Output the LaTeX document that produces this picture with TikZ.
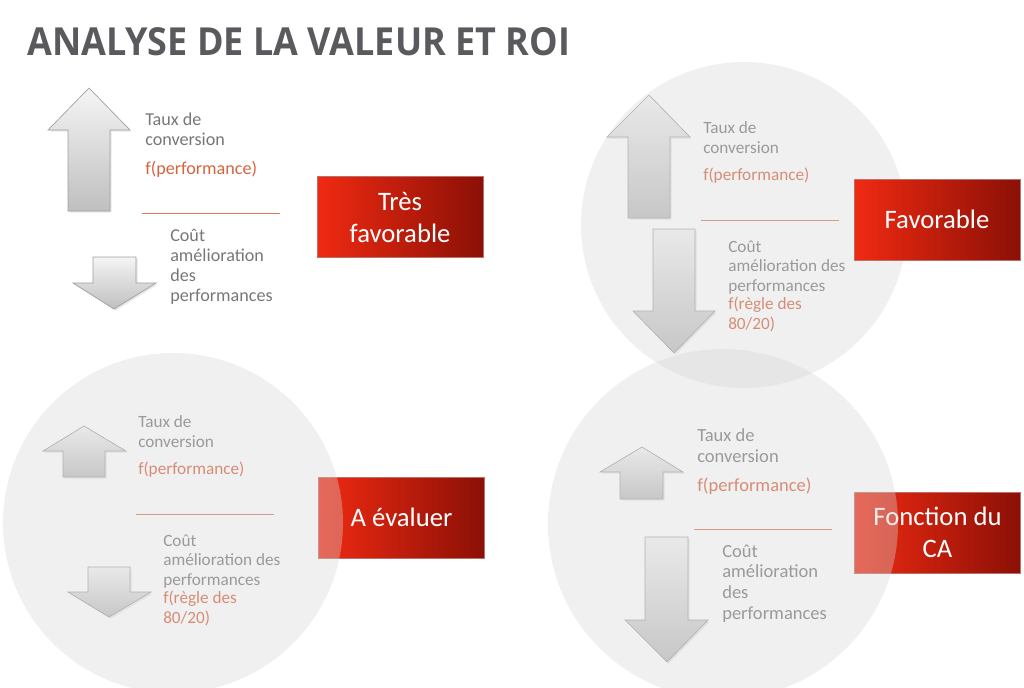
\documentclass[tikz,border=0pt]{standalone}
\usepackage{fontspec}
\setmainfont{Carlito}
\newfontfamily\titlefont{Open Sans}
\usetikzlibrary{shadows}
\definecolor{titlegray}{HTML}{5A5A5E}
\definecolor{txtgray}{HTML}{777777}
\definecolor{txtorange}{HTML}{D5633E}
\definecolor{boxred}{HTML}{F02A12}
\definecolor{boxdark}{HTML}{8B1006}
\definecolor{discgray}{HTML}{D6D6D6}

\begin{document}
\begin{tikzpicture}[x=0.75pt,y=-0.75pt,
    blockarrow/.style={draw=black!38,line width=0.5pt,top color=black!4,bottom color=black!25,
        drop shadow={opacity=0.18,shadow xshift=1.2pt,shadow yshift=-1.2pt}},
    txt/.style={anchor=base west,align=left,inner sep=0pt,text=txtgray,font=\fontsize{13.6}{15}\selectfont},
    txtsmall/.style={txt,font=\fontsize{12.9}{14.5}\selectfont},
    txtbig/.style={txt,font=\fontsize{13.9}{15.4}\selectfont},
    perf/.style={text=txtorange},
    sepline/.style={draw=txtorange!85,line width=0.7pt},
    redbox/.style={draw=boxdark!60,line width=0.3pt,left color=boxred,right color=boxdark,
        minimum width=124.5pt,minimum height=60.5pt,inner sep=0pt,align=center,text=white,
        font=\fontsize{20}{24}\selectfont},
    disc/.style={fill=discgray,fill opacity=0.37}]
    \useasboundingbox (0,0) rectangle (1024,687);

    % titre
    \node[anchor=base west,inner sep=0pt,text=titlegray] (title) at (27,55)
        {\resizebox{407pt}{21pt}{\titlefont\bfseries ANALYSE DE LA VALEUR ET ROI}};

    % en haut a gauche
    \draw[blockarrow] (89,88) -- (130,130) -- (110,130) -- (110,211) -- (68,211) -- (68,130) -- (48,130) -- cycle;
    \draw[blockarrow] (93,257) -- (136,257) -- (136,283) -- (156,283) -- (114,309) -- (73,283) -- (93,283) -- cycle;
    \node[txt] (tl-taux) at (145,145) {Taux de\\conversion};
    \node[txt,perf] (tl-perf) at (145,174) {f(performance)};
    \draw[sepline] (142,213) -- (280,213);
    \node[txt] (tl-cout) at (170,301) {Coût\\amélioration\\des\\performances};
    \node[redbox] (tl-box) at (400,217) {Très\\favorable};

    % en haut a droite
    \draw[blockarrow] (649,95) -- (690,137) -- (670,137) -- (670,218) -- (628,218) -- (628,137) -- (607,137) -- cycle;
    \draw[blockarrow] (653,229) -- (695,229) -- (695,311) -- (715,311) -- (674,353) -- (633,311) -- (653,311) -- cycle;
    \node[txtsmall] (tr-taux) at (703,153) {Taux de\\conversion};
    \node[txtsmall,perf] (tr-perf) at (703,180) {f(performance)};
    \draw[sepline] (701,220) -- (839,220);
    \node[txtsmall] (tr-cout) at (728,291) {Coût\\amélioration des\\performances};
    \node[txtsmall,perf] (tr-regle) at (728,329) {f(règle des\\80/20)};
    \fill[disc] (744,225) circle (163);
    \node[redbox] (tr-box) at (937,219.5) {Favorable};

    % en bas a gauche
    \draw[blockarrow] (84,426) -- (126,451) -- (105,451) -- (105,477) -- (63,477) -- (63,451) -- (43,451) -- cycle;
    \draw[blockarrow] (88,567) -- (130,567) -- (130,592) -- (151,592) -- (109,617) -- (68,592) -- (88,592) -- cycle;
    \node[txtsmall] (bl-taux) at (138,447) {Taux de\\conversion};
    \node[txtsmall,perf] (bl-perf) at (138,474) {f(performance)};
    \draw[sepline] (136,514) -- (274,514);
    \node[txtsmall] (bl-cout) at (163,585) {Coût\\amélioration des\\performances};
    \node[txtsmall,perf] (bl-regle) at (163,623) {f(règle des\\80/20)};
    \node[redbox] (bl-box) at (401.5,517.5) {A évaluer};

    % en bas a droite
    \draw[blockarrow] (642,447) -- (683,472) -- (663,472) -- (663,499) -- (620,499) -- (620,472) -- (600,472) -- cycle;
    \draw[blockarrow] (645,537) -- (688,537) -- (688,620) -- (708,620) -- (667,662) -- (625,620) -- (645,620) -- cycle;
    \node[txtbig] (br-taux) at (697,462) {Taux de\\conversion};
    \node[txtbig,perf] (br-perf) at (697,491) {f(performance)};
    \draw[sepline] (694,529) -- (832,529);
    \node[txtbig] (br-cout) at (722,619) {Coût\\amélioration\\des\\performances};
    \node[redbox] (br-box) at (937.5,532.5) {Fonction du\\CA};

    % cercles
    \fill[disc] (173,523) circle (170);
    \fill[disc] (723,524) circle (175);
\end{tikzpicture}
\end{document}
